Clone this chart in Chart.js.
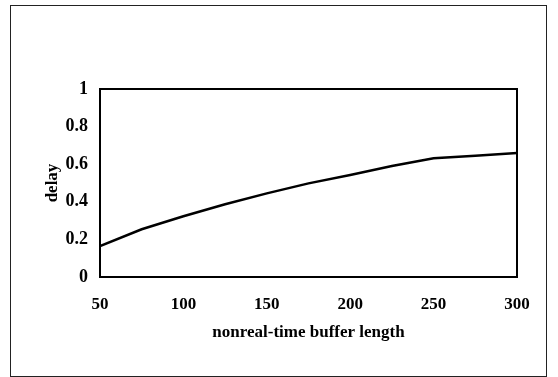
<!DOCTYPE html>
<html>
<head>
<meta charset="utf-8">
<script src="https://cdn.jsdelivr.net/npm/chart.js@4/dist/chart.umd.min.js"></script>
<style>
    html, body { margin: 0; padding: 0; background: #fff; }
    #wrap { position: relative; width: 558px; height: 377px; }
    #frame {
        position: absolute; left: 10px; top: 5px; width: 535px; height: 370px;
        border: 1px solid #222; pointer-events: none;
    }
</style>
</head>
<body>
<div id="wrap">
    <canvas id="delay-chart" width="558" height="377"></canvas>
    <div id="frame"></div>
</div>
<script>
// Data
const bufferLength = [50, 75, 100, 125, 150, 175, 200, 225, 250, 275, 300];
const delay = [0.165, 0.254, 0.323, 0.387, 0.445, 0.498, 0.543, 0.59, 0.632, 0.645, 0.66];

const xTitle = 'nonreal-time buffer length';
const yTitle = 'delay';

const fontFamily = "'Liberation Serif', 'DejaVu Serif', serif";

// Box around the plot area
const plotBox = {
    id: 'plotBox',
    afterDraw(chart) {
        const { ctx, chartArea } = chart;
        ctx.save();
        ctx.strokeStyle = '#000';
        ctx.lineWidth = 2;
        ctx.strokeRect(chartArea.left, chartArea.top, chartArea.right - chartArea.left, chartArea.bottom - chartArea.top);
        ctx.restore();
    }
};

const ctx = document.getElementById('delay-chart').getContext('2d');
const delayChart = new Chart(ctx, {
    type: 'line',
    data: {
        datasets: [{
            label: yTitle,
            data: bufferLength.map((x, i) => ({ x: x, y: delay[i] })),
            borderColor: '#000',
            borderWidth: 2.5,
            pointRadius: 0,
            tension: 0,
            fill: false
        }]
    },
    options: {
        responsive: false,
        animation: false,
        layout: {
            padding: { left: 0, right: 41, top: 89, bottom: 0 }
        },
        plugins: {
            legend: { display: false },
            tooltip: { enabled: false }
        },
        scales: {
            x: {
                type: 'linear',
                min: 50,
                max: 300,
                grid: { display: false, drawTicks: false },
                border: { display: false },
                ticks: {
                    stepSize: 50,
                    padding: 17,
                    color: '#000',
                    font: { family: fontFamily, size: 17, weight: 'bold' }
                },
                title: {
                    display: true,
                    text: xTitle,
                    color: '#000',
                    font: { family: fontFamily, size: 17, weight: 'bold' },
                    padding: { top: 0, bottom: 34 }
                },
                afterFit(scale) { scale.height = 100; }
            },
            y: {
                min: 0,
                max: 1,
                grid: { display: false, drawTicks: false },
                border: { display: false },
                ticks: {
                    stepSize: 0.2,
                    padding: 12,
                    color: '#000',
                    font: { family: fontFamily, size: 18, weight: 'bold' },
                    callback: (v) => String(Math.round(v * 10) / 10)
                },
                title: {
                    display: true,
                    text: yTitle,
                    color: '#000',
                    font: { family: fontFamily, size: 17, weight: 'bold' },
                    padding: { top: 42, bottom: 0 }
                },
                afterFit(scale) { scale.width = 100; }
            }
        }
    },
    plugins: [plotBox]
});
</script>
</body>
</html>
